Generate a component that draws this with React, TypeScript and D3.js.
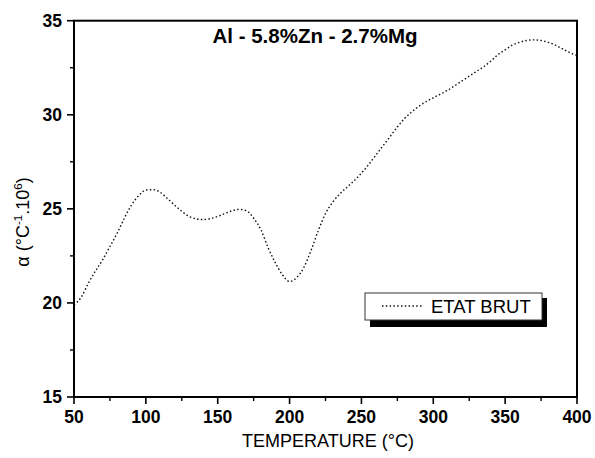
import React from "react";
import * as d3 from "d3";

const temps = [50,55,60,65,70,75,80,85,90,95,100,105,110,115,120,125,130,135,140,145,150,155,160,165,170,175,180,185,190,195,200,205,210,215,220,225,230,235,240,245,250,255,260,265,270,275,280,285,290,295,300,305,310,315,320,325,330,335,340,345,350,355,360,365,370,375,380,385,390,395,400];
const alpha = [19.9,20.3,21.05,21.7,22.3,23.0,23.7,24.5,25.2,25.7,26.0,26.02,25.88,25.55,25.2,24.87,24.6,24.47,24.43,24.48,24.6,24.75,24.9,24.97,24.9,24.5,23.9,22.95,22.15,21.5,21.14,21.35,21.9,22.8,23.85,24.75,25.35,25.8,26.15,26.5,26.9,27.35,27.85,28.35,28.85,29.35,29.8,30.15,30.45,30.7,30.9,31.1,31.3,31.55,31.8,32.05,32.3,32.55,32.85,33.2,33.45,33.7,33.85,33.95,33.98,33.95,33.85,33.7,33.5,33.3,33.15];
const xTicks = [50,100,150,200,250,300,350,400];
const xMinor = [75,125,175,225,275,325,375];
const yTicks = [15,20,25,30,35];
const yMinor = [17.5,22.5,27.5,32.5];
const title = "Al - 5.8%Zn - 2.7%Mg";
const seriesName = "ETAT BRUT";

const L = 74, R = 577, T = 20.7, B = 397;

export default function App() {
  const x = d3.scaleLinear().domain([50, 400]).range([L, R]);
  const y = d3.scaleLinear().domain([15, 35]).range([B, T]);
  const line = d3.line<number>().x((_, i) => x(temps[i])).y((d) => y(d)).curve(d3.curveMonotoneX);
  const font = "'Liberation Sans', Arial, sans-serif";
  return (
    <svg width={595} height={458} style={{ position: "absolute", left: 0, top: 0, background: "#fff" }} fontFamily={font}>
      <rect x={0} y={0} width={595} height={458} fill="#fff" />
      <path d={line(alpha) || ""} fill="none" stroke="#111" strokeWidth={1.4} strokeDasharray="1.5,2.3" />
      <rect x={L} y={T} width={R - L} height={B - T} fill="none" stroke="#000" strokeWidth={2} />
      {xTicks.map((t) => (
        <g key={"x" + t}>
          <line x1={x(t)} x2={x(t)} y1={B} y2={B + 7} stroke="#000" strokeWidth={1.6} />
          <text x={x(t)} y={423} textAnchor="middle" fontSize={17.5} fontWeight="bold">{t}</text>
        </g>
      ))}
      {xMinor.map((t) => (
        <line key={"xm" + t} x1={x(t)} x2={x(t)} y1={B} y2={B + 4} stroke="#000" strokeWidth={1.4} />
      ))}
      {yTicks.map((t) => (
        <g key={"y" + t}>
          <line x1={L - 7} x2={L} y1={y(t)} y2={y(t)} stroke="#000" strokeWidth={1.6} />
          <text x={62} y={y(t) + 6} textAnchor="end" fontSize={17.5} fontWeight="bold">{t}</text>
        </g>
      ))}
      {yMinor.map((t) => (
        <line key={"ym" + t} x1={L - 4} x2={L} y1={y(t)} y2={y(t)} stroke="#000" strokeWidth={1.4} />
      ))}
      <text x={315} y={43} textAnchor="middle" fontSize={20.5} fontWeight="bold">{title}</text>
      <text x={328} y={447} textAnchor="middle" fontSize={18}>TEMPERATURE (°C)</text>
      <text transform="translate(29,222) rotate(-90)" textAnchor="middle" fontSize={18}>
        α (°C<tspan dy={-7} fontSize={11.5}>-1</tspan><tspan dy={7}>.10</tspan><tspan dy={-7} fontSize={11.5}>6</tspan><tspan dy={7}>)</tspan>
      </text>
      <rect x={370} y={298} width={177} height={29} fill="#000" />
      <rect x={365} y={293} width={177} height={27} fill="#fff" stroke="#333" strokeWidth={1} />
      <line x1={382} x2={422} y1={306} y2={306} stroke="#111" strokeWidth={1.4} strokeDasharray="1.5,2.3" />
      <text x={431} y={313} fontSize={18.5}>{seriesName}</text>
    </svg>
  );
}
